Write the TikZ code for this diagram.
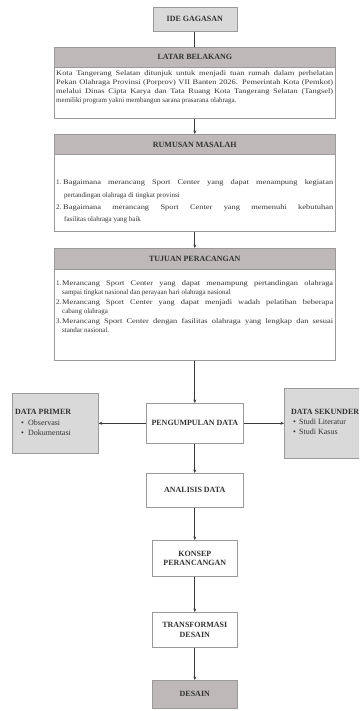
\documentclass[tikz,border=0pt]{standalone}
\usepackage{fontspec}
\setmainfont{Liberation Serif}
\newfontfamily\widefont[FakeStretch=1.2]{Liberation Serif}
\usepackage{graphicx}
\usetikzlibrary{arrows.meta}
\definecolor{lightfill}{HTML}{D9D9D9}
\definecolor{headfill}{HTML}{BEB8B8}
\definecolor{boxline}{HTML}{9A9A9A}
\definecolor{connclr}{HTML}{3A3A3A}
\definecolor{txtclr}{HTML}{333333}
\newcommand\fullln[2]{\makebox[#1pt][s]{\widefont #2}}
\tikzset{
  box/.style={draw=boxline, line width=0.6pt, inner sep=0pt, anchor=north west, text=txtclr},
  litebox/.style={box, fill=lightfill},
  headbox/.style={box, fill=headfill},
  plainbox/.style={box, fill=white},
  lbl/.style={font=\fontsize{8}{9.5}\selectfont\bfseries, align=center},
  lbltxt/.style={font=\fontsize{8}{9.5}\selectfont\bfseries, anchor=base west, inner sep=0pt, text=txtclr},
  itemtxt/.style={font=\fontsize{8}{9.5}\selectfont, anchor=base west, inner sep=0pt, text=txtclr},
  bodyln/.style={font=\fontsize{7}{9}\selectfont, anchor=base west, inner sep=0pt, text=txtclr},
  plainline/.style={draw=connclr, line width=0.7pt},
  conn/.style={draw=connclr, line width=0.7pt, -{Stealth[length=3.5pt,width=3pt]}}
}
\begin{document}
\begin{tikzpicture}[x=1pt,y=-1pt]
\useasboundingbox (0,0) rectangle (359,711);
\clip (0,0) rectangle (359,711);
\fill[white] (0,0) rectangle (359,711);

% IDE GAGASAN
\node[litebox, minimum width=84pt, minimum height=24pt, lbl] (ide) at (152.5,7) {IDE GAGASAN};

% LATAR BELAKANG
\node[headbox, minimum width=281pt, minimum height=20pt, lbl] (lathead) at (54,47) {LATAR BELAKANG};
\node[plainbox, minimum width=281pt, minimum height=51pt] (latbody) at (54,67) {};
\node[bodyln] (lat1) at (56,75.5) {\fullln{277}{Kota Tangerang Selatan ditunjuk untuk menjadi tuan rumah dalam perhelatan}};
\node[bodyln] (lat2) at (56,84.5) {\fullln{277}{Pekan Olahraga Provinsi (Porprov) VII Banten 2026. Pemerintah Kota (Pemkot)}};
\node[bodyln] (lat3) at (56,93.5) {\fullln{277}{melalui Dinas Cipta Karya dan Tata Ruang Kota Tangerang Selatan (Tangsel)}};
\node[bodyln] (lat4) at (56,102.5) {memiliki program yakni membangun sarana prasarana olahraga.};

% RUMUSAN MASALAH
\node[headbox, minimum width=281pt, minimum height=20.5pt, lbl] (rumhead) at (54,134) {RUMUSAN MASALAH};
\node[plainbox, minimum width=281pt, minimum height=76.5pt] (rumbody) at (54,154.5) {};
\node[bodyln] (rum1n) at (56,185) {1.};
\node[bodyln] (rum1a) at (63,185) {\fullln{270}{Bagaimana merancang Sport Center yang dapat menampung kegiatan}};
\node[bodyln] (rum1b) at (64,197.5) {pertandingan olahraga di tingkat provinsi};
\node[bodyln] (rum2n) at (56,210) {2.};
\node[bodyln] (rum2a) at (63,210) {\fullln{270}{Bagaimana merancang Sport Center yang memenuhi kebutuhan}};
\node[bodyln] (rum2b) at (64,222) {fasilitas olahraga yang baik};

% TUJUAN PERACANGAN
\node[headbox, minimum width=281pt, minimum height=21pt, lbl] (tujhead) at (54,248) {TUJUAN PERACANGAN};
\node[plainbox, minimum width=281pt, minimum height=91pt] (tujbody) at (54,269) {};
\node[bodyln] (tuj1n) at (56,285) {1.};
\node[bodyln] (tuj1a) at (62,285) {\fullln{271}{Merancang Sport Center yang dapat menampung pertandingan olahraga}};
\node[bodyln] (tuj1b) at (62,294.5) {sampai tingkat nasional dan perayaan hari olahraga nasional};
\node[bodyln] (tuj2n) at (56,304) {2.};
\node[bodyln] (tuj2a) at (62,304) {\fullln{271}{Merancang Sport Center yang dapat menjadi wadah pelatihan beberapa}};
\node[bodyln] (tuj2b) at (62,313.5) {cabang olahraga};
\node[bodyln] (tuj3n) at (56,323) {3.};
\node[bodyln] (tuj3a) at (62,323) {\fullln{271}{Merancang Sport Center dengan fasilitas olahraga yang lengkap dan sesuai}};
\node[bodyln] (tuj3b) at (62,332) {standar nasional.};

% PENGUMPULAN DATA
\node[plainbox, minimum width=97pt, minimum height=40pt, lbl] (peng) at (146,403) {PENGUMPULAN DATA};

% DATA PRIMER
\node[litebox, minimum width=86pt, minimum height=60pt] (dp) at (12,393) {};
\node[lbltxt] (dpt) at (15,414.5) {DATA PRIMER};
\node[itemtxt] (dpb1) at (21,425) {•};
\node[itemtxt] (dpi1) at (28,425) {Observasi};
\node[itemtxt] (dpb2) at (21,435) {•};
\node[itemtxt] (dpi2) at (28,435) {Dokumentasi};

% DATA SEKUNDER
\node[litebox, minimum width=80pt, minimum height=70pt] (ds) at (284,388) {};
\node[lbltxt] (dst) at (291,414.5) {DATA SEKUNDER};
\node[itemtxt] (dsb1) at (293,424.5) {•};
\node[itemtxt] (dsi1) at (299,424.5) {Studi Literatur};
\node[itemtxt] (dsb2) at (293,434.5) {•};
\node[itemtxt] (dsi2) at (299,434.5) {Studi Kasus};

% lower chain
\node[plainbox, minimum width=97pt, minimum height=34pt, lbl] (anal) at (146,473) {ANALISIS DATA};
\node[plainbox, minimum width=85pt, minimum height=36pt, lbl] (kons) at (152,540) {KONSEP\\PERANCANGAN};
\node[plainbox, minimum width=85pt, minimum height=35pt, lbl] (trans) at (152,612) {TRANSFORMASI\\DESAIN};
\node[headbox, minimum width=85pt, minimum height=28pt, lbl] (des) at (152,680) {DESAIN};

% connectors
\draw[plainline] (ide.south) -- (lathead.north);
\draw[conn] (latbody.south) -- (rumhead.north);
\draw[conn] (rumbody.south) -- (tujhead.north);
\draw[conn] (tujbody.south) -- (peng.north);
\draw[conn] (peng.west) -- (dp.east);
\draw[conn] (peng.east) -- (ds.west);
\draw[conn] (peng.south) -- (anal.north);
\draw[conn] (anal.south) -- (kons.north);
\draw[conn] (kons.south) -- (trans.north);
\draw[conn] (trans.south) -- (des.north);
\end{tikzpicture}
\end{document}
